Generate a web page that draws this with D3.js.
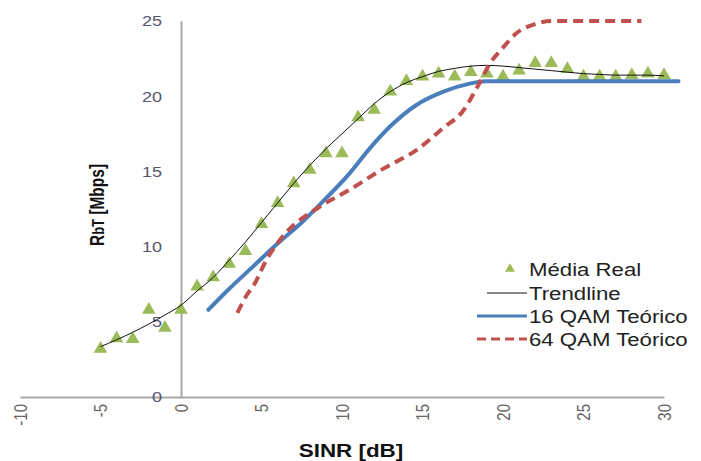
<!DOCTYPE html>
<html>
<head>
<meta charset="utf-8">
<script src="https://cdn.jsdelivr.net/npm/d3@7"></script>
<style>
  html, body { margin: 0; padding: 0; background: #fff; }
  svg { display: block; font-family: "Liberation Sans", Arial, sans-serif; }
</style>
</head>
<body>
<svg id="chart" width="701" height="461"></svg>
<script>
// ---- Data ----
const mediaRealX = [-5,-4,-3,-2,-1,0,1,2,3,4,5,6,7,8,9,10,11,12,13,14,15,16,17,18,19,20,21,22,23,24,25,26,27,28,29,30];
const mediaRealY = [3.2,3.9,3.85,5.8,4.6,5.8,7.35,7.95,8.85,9.7,11.5,12.9,14.2,15.1,16.2,16.2,18.6,19.1,20.3,21.0,21.3,21.5,21.3,21.6,21.5,21.3,21.7,22.2,22.2,21.8,21.3,21.3,21.3,21.4,21.5,21.4];

const trendX = [-5,-4,-3,-2,-1,0,1,2,3,4,5,6,7,8,9,10,11,12,13,14,15,16,17,18,19,20,21,22,23,24,25,26,27,28,29,30];
const trendY = [3.35,3.8,4.3,4.85,5.45,6.1,7.05,7.95,9.1,10.3,11.6,12.9,14.2,15.4,16.5,17.5,18.5,19.5,20.3,20.9,21.3,21.65,21.85,22.0,22.05,22.0,21.9,21.8,21.7,21.6,21.5,21.45,21.4,21.4,21.4,21.35];

const qam16X = [1.7,3.0,4.5,6.0,7.5,9.0,10.5,11.7,13.0,14.6,16.3,18.0,18.9,30.9];
const qam16Y = [5.8,7.2,8.7,10.2,11.6,13.2,14.9,16.5,18.0,19.4,20.3,20.85,21.0,21.0];

const qam64X = [3.5,4.1,4.5,5.3,6.5,8.4,10.5,12.6,14.6,16.3,17.5,18.4,19.2,19.9,20.85,22.0,23.0,28.6];
const qam64Y = [5.6,6.8,7.4,9.1,10.9,12.5,13.8,15.2,16.4,17.9,19.0,20.6,22.2,23.1,24.2,24.8,25.0,25.0];

const xTicks = [-10,-5,0,5,10,15,20,25,30];
const yTicks = [0,5,10,15,20,25];
const legendLabels = ["Média Real","Trendline","16 QAM Teórico","64 QAM Teórico"];
const xTitle = "SINR [dB]";

// ---- Chart ----
const svg = d3.select("#chart");
const x = d3.scaleLinear().domain([-10,30]).range([20,664]);
const y = d3.scaleLinear().domain([0,25]).range([397,21]);

const axisColor = "#a6a6a6";
const green = "#9bbb59", blue = "#4a7ebb", red = "#c0504d";

// X axis
const gx = svg.append("g").attr("transform", `translate(0,${y(0)})`)
  .call(d3.axisBottom(x).tickValues(xTicks).tickSize(0).tickFormat(d => String(d)));
gx.select(".domain").attr("stroke", axisColor).attr("stroke-width", 2);
gx.selectAll("text")
  .attr("transform", "rotate(-90) scale(1,1.2)")
  .attr("x", -7).attr("y", 0).attr("dy", "0.35em")
  .attr("text-anchor", "end")
  .attr("fill", "#666")
  .style("font-size", "15px")
  .style("font-family", "'Liberation Sans', Arial, sans-serif");

// Y axis
const gy = svg.append("g").attr("transform", `translate(${x(0)},0)`)
  .call(d3.axisLeft(y).tickValues(yTicks).tickSize(0).tickPadding(19).tickFormat(d => String(d)));
gy.select(".domain").attr("stroke", axisColor).attr("stroke-width", 2);
gy.selectAll(".tick text").each(function() {
  const t = d3.select(this);
  const tx = +t.attr("x");
  t.attr("x", tx / 1.2).attr("transform", "scale(1.2,1)")
   .attr("fill", "#55556e")
   .style("font-size", "15px")
   .style("font-family", "'Liberation Sans', Arial, sans-serif");
});

// Média Real markers
const tri = d3.symbol().type(d3.symbolTriangle).size(80);
svg.append("g").selectAll("path").data(mediaRealX.map((d,i)=>[d, mediaRealY[i]]))
  .join("path")
  .attr("d", tri)
  .attr("transform", d => `translate(${x(d[0])},${y(d[1])})`)
  .attr("fill", green);

const line = d3.line().x(d => x(d[0])).y(d => y(d[1])).curve(d3.curveMonotoneX);

// Trendline
svg.append("path").datum(trendX.map((d,i)=>[d, trendY[i]]))
  .attr("d", line).attr("fill", "none").attr("stroke", "#111").attr("stroke-width", 1);

// 16 QAM
svg.append("path").datum(qam16X.map((d,i)=>[d, qam16Y[i]]))
  .attr("d", line).attr("fill", "none").attr("stroke", blue).attr("stroke-width", 4)
  .attr("stroke-linecap", "round");

// 64 QAM
svg.append("path").datum(qam64X.map((d,i)=>[d, qam64Y[i]]))
  .attr("d", line).attr("fill", "none").attr("stroke", red).attr("stroke-width", 4)
  .attr("stroke-dasharray", "10,6");

// Axis titles
svg.append("text")
  .attr("transform", "translate(351,457) scale(1.18,1)")
  .attr("text-anchor", "middle")
  .attr("font-weight", "bold").attr("font-size", 19).attr("fill", "#111")
  .text(xTitle);

const yl = svg.append("text")
  .attr("transform", "translate(104,205) rotate(-90) scale(1,1.25)")
  .attr("text-anchor", "middle")
  .attr("font-weight", "bold").attr("font-size", 15.5).attr("fill", "#111");
yl.append("tspan").text("R");
yl.append("tspan").attr("font-size", 13).text("bT");
yl.append("tspan").text(" [Mbps]");

// Legend
const lg = svg.append("g");
const rows = [276, 300, 323, 346];
legendLabels.forEach((lab, i) => {
  lg.append("text")
    .attr("transform", `translate(529,${rows[i]}) scale(1.2,1)`)
    .attr("font-size", 18.5).attr("fill", "#222")
    .text(lab);
});
lg.append("path").attr("d", d3.symbol().type(d3.symbolTriangle).size(42))
  .attr("transform", "translate(510,269)").attr("fill", green);
lg.append("line").attr("x1", 487).attr("x2", 527).attr("y1", 293).attr("y2", 293)
  .attr("stroke", "#111").attr("stroke-width", 1);
lg.append("line").attr("x1", 477).attr("x2", 527).attr("y1", 316).attr("y2", 316)
  .attr("stroke", blue).attr("stroke-width", 3);
lg.append("line").attr("x1", 477).attr("x2", 527).attr("y1", 339).attr("y2", 339)
  .attr("stroke", red).attr("stroke-width", 3).attr("stroke-dasharray", "9,5");
</script>
</body>
</html>
